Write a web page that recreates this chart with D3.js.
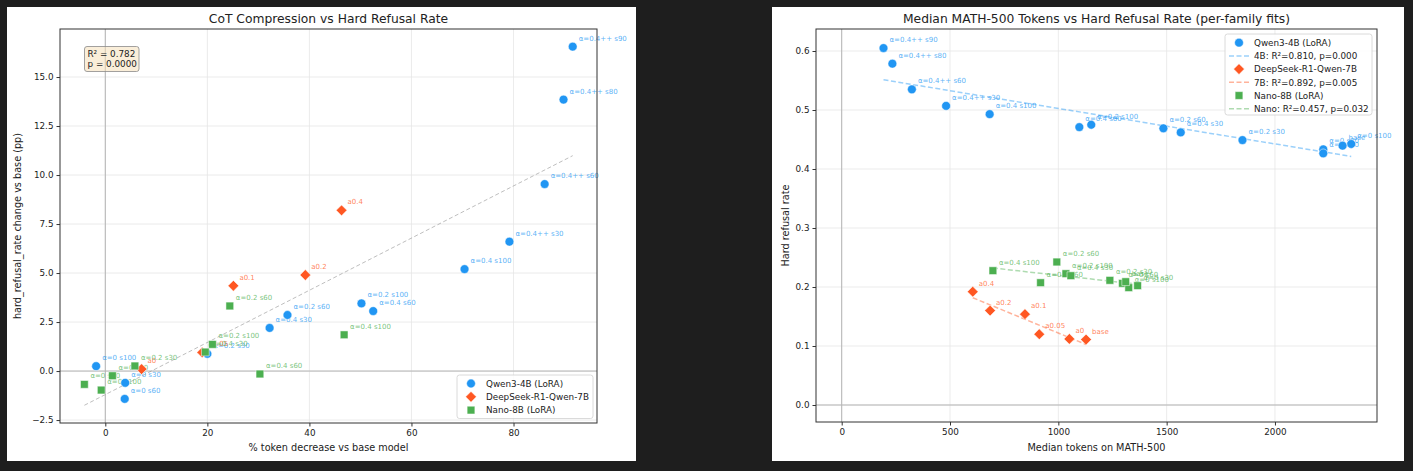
<!DOCTYPE html>
<html>
<head>
<meta charset="utf-8">
<script src="https://cdn.jsdelivr.net/npm/d3@7"></script>
<style>
  body { margin: 0; background: #1e1e1e; }
  svg text { font-family: "DejaVu Sans", sans-serif; }
</style>
</head>
<body>
<div id="chart-area"></div>
<script>
// ---- data ----
// Qwen3-4B (LoRA)
const qwenLabels = ["α=0 s100", "α=0 s30", "α=0 s60", "α=0.2 s30", "α=0.4 s30", "α=0.2 s60",
  "α=0.2 s100", "α=0.4 s60", "α=0.4 s100", "α=0.4++ s30", "α=0.4++ s60", "α=0.4++ s80", "α=0.4++ s90"];
const qwenPct = [-1.8, 3.9, 3.8, 20.0, 32.2, 35.7, 50.2, 52.5, 70.4, 79.2, 86.1, 89.8, 91.6];
const qwenDelta = [0.25, -0.6, -1.42, 0.88, 2.2, 2.86, 3.45, 3.06, 5.2, 6.6, 9.54, 13.85, 16.55];
const qwenTokLabels = qwenLabels.concat(["base"]);
const qwenTokens = [2352, 2223, 2223, 1850, 1565, 1485, 1152, 1097, 683, 482, 324, 234, 193, 2312];
const qwenRate = [0.4424, 0.4334, 0.4265, 0.449, 0.462, 0.469, 0.475, 0.471, 0.493, 0.507, 0.535, 0.5785, 0.605, 0.4395];

// DeepSeek-R1-Qwen-7B
const dsLabels = ["a0", "a0.05", "a0.1", "a0.2", "a0.4"];
const dsPct = [7.1, 19.0, 25.1, 39.2, 46.3];
const dsDelta = [0.1, 0.95, 4.35, 4.9, 8.2];
const dsTokLabels = dsLabels.concat(["base"]);
const dsTokens = [1051, 912, 846, 685, 605, 1128];
const dsRate = [0.112, 0.120, 0.154, 0.160, 0.192, 0.111];

// Nano-8B (LoRA)
const nanoLabels = ["α=0 s30", "α=0 s60", "α=0 s100", "α=0.2 s30", "α=0.2 s60", "α=0.2 s100",
  "α=0.4 s30", "α=0.4 s60", "α=0.4 s100"];
const nanoPct = [-4.1, 1.4, -0.8, 5.8, 24.4, 21.0, 19.6, 30.3, 46.8];
const nanoDelta = [-0.68, -0.24, -0.97, 0.26, 3.32, 1.36, 0.97, -0.15, 1.85];
const nanoTokLabels = nanoLabels.concat(["base"]);
const nanoTokens = [1366, 1296, 1325, 1238, 993, 1035, 1058, 918, 698, 1311];
const nanoRate = [0.2023, 0.2062, 0.1989, 0.2113, 0.2424, 0.2226, 0.2192, 0.2073, 0.2277, 0.209];

const seriesNames = ["Qwen3-4B (LoRA)", "DeepSeek-R1-Qwen-7B", "Nano-8B (LoRA)"];
const fitNames = ["4B: R²=0.810, p=0.000", "7B: R²=0.892, p=0.005", "Nano: R²=0.457, p=0.032"];
const statLines = ["R² = 0.782", "p = 0.0000"];

const leftXTicks = [0, 20, 40, 60, 80];
const leftYTicks = [-2.5, 0, 2.5, 5, 7.5, 10, 12.5, 15];
const rightXTicks = [0, 500, 1000, 1500, 2000];
const rightYTicks = [0, 0.1, 0.2, 0.3, 0.4, 0.5, 0.6];

const colors = ["#2196F3", "#FF5722", "#4CAF50"];
const shapes = ["circle", "diamond", "square"];

// ---- helpers ----
function zip(labels, xs, ys) {
  return labels.map((l, i) => ({ label: l, x: xs[i], y: ys[i] }));
}

function fit(pts) {
  let mx = d3.mean(pts, d => d.x), my = d3.mean(pts, d => d.y);
  let sxy = d3.sum(pts, d => (d.x - mx) * (d.y - my));
  let sxx = d3.sum(pts, d => (d.x - mx) * (d.x - mx));
  let b = sxy / sxx;
  let x0 = d3.min(pts, d => d.x), x1 = d3.max(pts, d => d.x);
  return [{ x: x0, y: my + b * (x0 - mx) }, { x: x1, y: my + b * (x1 - mx) }];
}

function markerPath(shape) {
  if (shape === "circle") return d3.symbol(d3.symbolCircle, 61)();
  if (shape === "square") return d3.symbol(d3.symbolSquare, 60)();
  return d3.symbol(d3.symbolSquare, 58)();   // rotated later
}

function drawMarker(sel, shape, color, x, y) {
  sel.append("path")
    .attr("d", markerPath(shape))
    .attr("transform", "translate(" + x + "," + y + ")" + (shape === "diamond" ? " rotate(45)" : ""))
    .attr("fill", color)
    .attr("stroke", "white")
    .attr("stroke-width", 0.5);
}

const svg = d3.select("#chart-area").append("svg")
  .attr("width", 1413).attr("height", 471);

svg.append("rect").attr("width", 1413).attr("height", 471).attr("fill", "#1e1e1e");

function drawPanel(p) {
  // white card
  svg.append("rect")
    .attr("x", p.card[0]).attr("y", p.card[1])
    .attr("width", p.card[2]).attr("height", p.card[3])
    .attr("fill", "white");

  let x = d3.scaleLinear().domain(p.xDomain).range([p.left, p.right]);
  let y = d3.scaleLinear().domain(p.yDomain).range([p.bottom, p.top]);
  let g = svg.append("g");

  // grid
  g.selectAll(".gx").data(p.xTicks).enter().append("line")
    .attr("x1", d => x(d)).attr("x2", d => x(d))
    .attr("y1", p.top).attr("y2", p.bottom)
    .attr("stroke", "#e6e6e6").attr("stroke-width", 0.8);
  g.selectAll(".gy").data(p.yTicks).enter().append("line")
    .attr("x1", p.left).attr("x2", p.right)
    .attr("y1", d => y(d)).attr("y2", d => y(d))
    .attr("stroke", "#e6e6e6").attr("stroke-width", 0.8);

  // zero lines
  g.append("line").attr("x1", x(0)).attr("x2", x(0)).attr("y1", p.top).attr("y2", p.bottom)
    .attr("stroke", "#b5b5b5").attr("stroke-width", 1);
  g.append("line").attr("x1", p.left).attr("x2", p.right).attr("y1", y(0)).attr("y2", y(0))
    .attr("stroke", "#b5b5b5").attr("stroke-width", 1);

  // fit lines
  p.fits.forEach(f => {
    g.append("line")
      .attr("x1", x(f.pts[0].x)).attr("y1", y(f.pts[0].y))
      .attr("x2", x(f.pts[1].x)).attr("y2", y(f.pts[1].y))
      .attr("stroke", f.color).attr("stroke-opacity", f.opacity)
      .attr("stroke-width", f.width).attr("stroke-dasharray", f.dash);
  });

  // point labels (below markers, like the original)
  p.series.forEach((s, k) => {
    g.selectAll(".lab" + k).data(s).enter().append("text")
      .attr("x", d => x(d.x) + 6).attr("y", d => y(d.y) - 6)
      .attr("font-size", 7).attr("fill", colors[k]).attr("fill-opacity", 0.75)
      .text(d => d.label);
  });

  // markers
  p.series.forEach((s, k) => {
    s.forEach(d => drawMarker(g, shapes[k], colors[k], x(d.x), y(d.y)));
  });

  // axes
  let xAxis = d3.axisBottom(x).tickValues(p.xTicks).tickFormat(p.xFmt).tickSize(3.5).tickSizeOuter(0);
  let yAxis = d3.axisLeft(y).tickValues(p.yTicks).tickFormat(p.yFmt).tickSize(3.5).tickSizeOuter(0);
  let gx = g.append("g").attr("transform", "translate(0," + p.bottom + ")").call(xAxis);
  let gy = g.append("g").attr("transform", "translate(" + p.left + ",0)").call(yAxis);
  [gx, gy].forEach(a => {
    a.select(".domain").remove();
    a.selectAll("line").attr("stroke", "#333");
    a.selectAll("text").attr("font-size", 8.8).attr("fill", "#222")
      .attr("font-family", "DejaVu Sans, sans-serif");
  });

  // frame
  g.append("rect")
    .attr("x", p.left).attr("y", p.top)
    .attr("width", p.right - p.left).attr("height", p.bottom - p.top)
    .attr("fill", "none").attr("stroke", "#333").attr("stroke-width", 1);

  // title and axis labels
  g.append("text").attr("x", (p.left + p.right) / 2).attr("y", 23)
    .attr("text-anchor", "middle").attr("font-size", 12.3).attr("fill", "#222")
    .text(p.title);
  g.append("text").attr("x", (p.left + p.right) / 2).attr("y", 451)
    .attr("text-anchor", "middle").attr("font-size", 9.7).attr("fill", "#222")
    .text(p.xLabel);
  g.append("text")
    .attr("transform", "translate(" + p.yLabelX + "," + (p.top + p.bottom) / 2 + ") rotate(-90)")
    .attr("text-anchor", "middle").attr("font-size", 9.7).attr("fill", "#222")
    .text(p.yLabel);

  // legend
  let L = p.legend;
  let lg = g.append("g");
  lg.append("rect").attr("x", L.x).attr("y", L.y).attr("width", L.w).attr("height", L.h)
    .attr("rx", 2.5).attr("fill", "white").attr("fill-opacity", 0.85)
    .attr("stroke", "#d0d0d0").attr("stroke-width", 0.8);
  L.items.forEach((it, i) => {
    let cy = L.y + L.first + i * L.step;
    if (it.kind === "marker") {
      drawMarker(lg, shapes[it.k], colors[it.k], L.x + 14, cy);
    } else {
      lg.append("line").attr("x1", L.x + 4).attr("x2", L.x + 24).attr("y1", cy).attr("y2", cy)
        .attr("stroke", colors[it.k]).attr("stroke-opacity", 0.45)
        .attr("stroke-width", 1.5).attr("stroke-dasharray", "5,2.5");
    }
    lg.append("text").attr("x", L.x + 29).attr("y", cy + 3.2)
      .attr("font-size", 8.8).attr("fill", "#222").text(it.text);
  });

  return { g: g, x: x, y: y };
}

// ---- left: CoT compression ----
let leftSeries = [zip(qwenLabels, qwenPct, qwenDelta), zip(dsLabels, dsPct, dsDelta), zip(nanoLabels, nanoPct, nanoDelta)];
let leftAll = leftSeries[0].concat(leftSeries[1], leftSeries[2]);

let left = drawPanel({
  card: [7, 7, 629, 454],
  left: 60, right: 597, top: 29, bottom: 423,
  xDomain: [-8.88, 96.36], yDomain: [-2.65, 17.45],
  xTicks: leftXTicks, yTicks: leftYTicks,
  xFmt: d3.format("d"), yFmt: d3.format(".1f"),
  title: "CoT Compression vs Hard Refusal Rate",
  xLabel: "% token decrease vs base model",
  yLabel: "hard_refusal_rate change vs base (pp)",
  yLabelX: 21,
  series: leftSeries,
  fits: [{ pts: fit(leftAll), color: "#888", opacity: 0.55, width: 1, dash: "4,2.5" }],
  legend: {
    x: 457, y: 375, w: 136, h: 43.5, first: 8.5, step: 13.3,
    items: seriesNames.map((t, k) => ({ kind: "marker", k: k, text: t }))
  }
});

// stats box
let sb = left.g.append("g");
sb.append("rect").attr("x", 84.5).attr("y", 46.5).attr("width", 54.5).attr("height", 25)
  .attr("rx", 2.5).attr("fill", "#f5deb3").attr("fill-opacity", 0.5)
  .attr("stroke", "#8a8a8a").attr("stroke-width", 0.8);
statLines.forEach((t, i) => {
  sb.append("text").attr("x", 87.5).attr("y", 57 + i * 10.3)
    .attr("font-size", 8.8).attr("fill", "#222").text(t);
});

// ---- right: median tokens ----
let rightSeries = [zip(qwenTokLabels, qwenTokens, qwenRate), zip(dsTokLabels, dsTokens, dsRate), zip(nanoTokLabels, nanoTokens, nanoRate)];

drawPanel({
  card: [772, 7, 632, 454],
  left: 816, right: 1377, top: 29, bottom: 422,
  xDomain: [-118.6, 2471], yDomain: [-0.0288, 0.6373],
  xTicks: rightXTicks, yTicks: rightYTicks,
  xFmt: d3.format("d"), yFmt: d3.format(".1f"),
  title: "Median MATH-500 Tokens vs Hard Refusal Rate (per-family fits)",
  xLabel: "Median tokens on MATH-500",
  yLabel: "Hard refusal rate",
  yLabelX: 789,
  series: rightSeries,
  fits: rightSeries.map((s, k) => ({ pts: fit(s), color: colors[k], opacity: 0.45, width: 1.5, dash: "5,2.5" })),
  legend: {
    x: 1225, y: 34, w: 147, h: 81, first: 8.7, step: 13.2,
    items: [
      { kind: "marker", k: 0, text: seriesNames[0] },
      { kind: "line", k: 0, text: fitNames[0] },
      { kind: "marker", k: 1, text: seriesNames[1] },
      { kind: "line", k: 1, text: fitNames[1] },
      { kind: "marker", k: 2, text: seriesNames[2] },
      { kind: "line", k: 2, text: fitNames[2] }
    ]
  }
});
</script>
</body>
</html>
